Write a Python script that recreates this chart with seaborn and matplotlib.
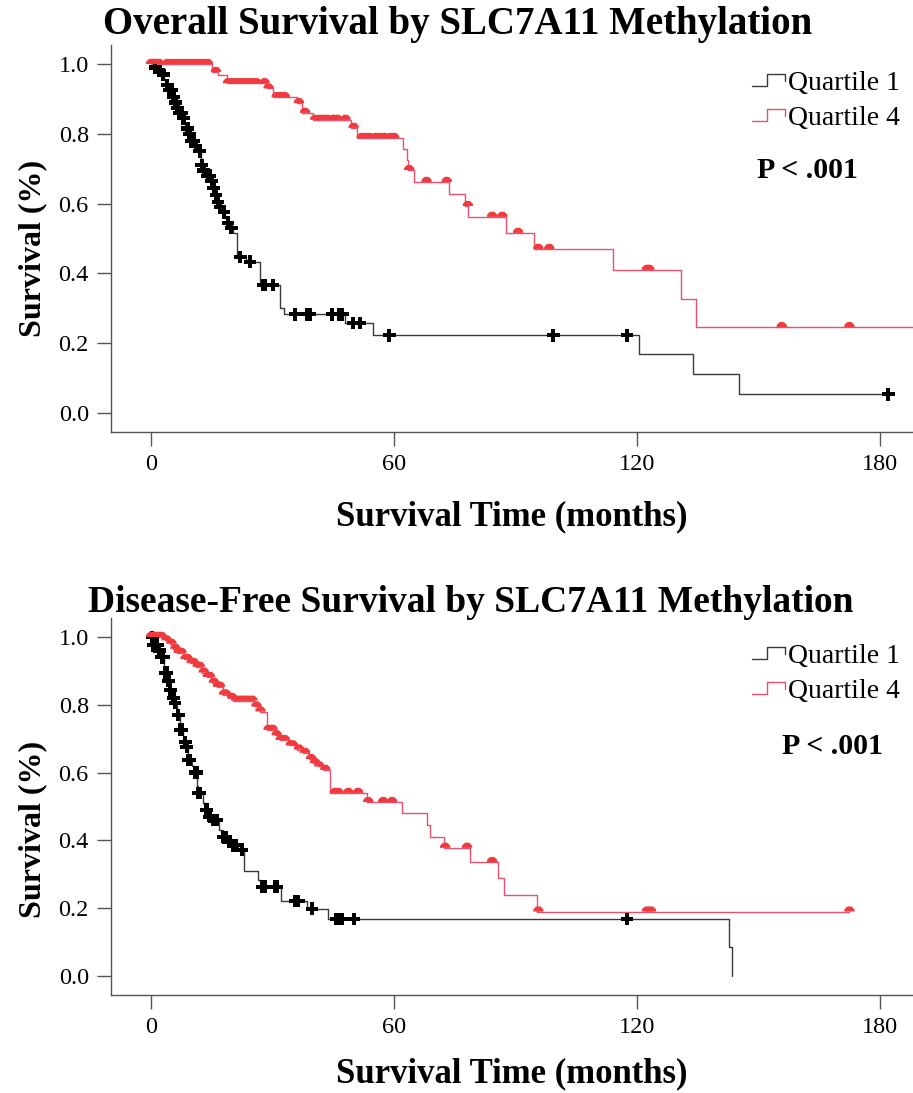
import numpy as np
import pandas as pd
import matplotlib
matplotlib.use('Agg')
import matplotlib.pyplot as plt
import seaborn as sns
from matplotlib.lines import Line2D
from matplotlib.path import Path
from matplotlib.legend_handler import HandlerBase

# ---- Overall survival: step curves (time in months, survival) ----
os_q1_time = [0, 0.8, 1.5, 2.5, 3.2, 3.8, 4.5, 5.2, 5.8, 6.4, 7.0, 7.6, 8.2, 8.8, 9.4, 10.0,
              10.8, 11.6, 12.2, 13.0, 13.8, 14.6, 15.2, 15.8, 16.4, 17.0, 17.6, 18.2, 18.8,
              19.4, 20.2, 21.2, 23.5, 26.9, 31.9, 32.7, 47.9, 54.9, 120.5, 133.8, 145.2, 182]
os_q1_surv = [1.0, 0.99, 0.98, 0.97, 0.955, 0.94, 0.925, 0.905, 0.89, 0.875, 0.86, 0.845, 0.83,
              0.815, 0.80, 0.78, 0.765, 0.75, 0.71, 0.695, 0.68, 0.665, 0.645, 0.625, 0.605, 0.59,
              0.575, 0.56, 0.545, 0.53, 0.515, 0.447, 0.433, 0.367, 0.30, 0.283, 0.258, 0.223,
              0.169, 0.112, 0.054, 0.054]
os_q1_cens = [1, 2, 3, 4, 4.5, 5, 5.5, 6, 6.5, 7, 7.5, 8, 9, 9.5, 10, 10.5, 11, 12, 12.5, 13, 14,
              14.5, 15, 15.5, 16, 16.5, 17, 18, 19, 19.8, 22, 24.4, 27.6, 28.2, 30.1, 35.5, 38.4,
              39.2, 44.7, 46.4, 47.2, 49.9, 51.5, 58.8, 99.3, 117.5, 182]

os_q4_time = [0, 15.0, 16.5, 18.7, 28.6, 30.0, 36.0, 37.2, 40.0, 49.4, 50.8, 62.2, 63.2, 63.5,
              64.8, 73.6, 77.5, 78.3, 87.7, 94.6, 114.0, 130.9, 134.5, 190]
os_q4_surv = [1.0, 0.977, 0.968, 0.945, 0.93, 0.905, 0.888, 0.86, 0.84, 0.817, 0.788, 0.756,
              0.725, 0.696, 0.662, 0.627, 0.593, 0.562, 0.516, 0.47, 0.41, 0.327, 0.246, 0.246]
os_q4_cens = [0, 0.3, 0.6, 1, 1.5, 2, 4, 5, 6, 7, 8, 9, 10, 11, 12, 13, 14, 16, 19, 20, 21, 22,
              23, 24, 25, 26, 28, 29, 31, 32, 33, 36.5, 38, 40.5, 41.5, 42.5, 43.5, 45, 46, 48,
              50, 52, 53, 54, 55.5, 56.5, 57.5, 59, 60, 63.7, 68, 73, 78.2, 84.2, 86.7, 90.6,
              95.6, 98.3, 122.4, 123, 155.7, 172.4]

# ---- Disease-free survival ----
dfs_q1_time = [0, 0.6, 1.8, 2.6, 3.2, 3.5, 4.0, 4.7, 5.3, 5.9, 6.4, 7.2, 7.8, 8.4, 8.8, 9.1,
               10.2, 10.9, 11.4, 11.6, 12.8, 13.7, 14.5, 15.3, 16.8, 17.8, 19.0, 20.3, 21.5,
               23.0, 26.5, 27.2, 32.1, 38.4, 43.7, 142.7, 143.3]
dfs_q1_surv = [1.0, 0.976, 0.96, 0.94, 0.91, 0.894, 0.87, 0.844, 0.82, 0.805, 0.77, 0.726, 0.70,
               0.69, 0.676, 0.637, 0.62, 0.60, 0.56, 0.54, 0.51, 0.49, 0.47, 0.46, 0.43, 0.41,
               0.395, 0.386, 0.372, 0.31, 0.283, 0.263, 0.221, 0.198, 0.168, 0.085, 0.0]
dfs_q1_cens = [0.3, 0.6, 1, 1.5, 2, 2.6, 3, 3.5, 3.9, 4.3, 4.7, 5.5, 5.9, 6.7, 7.2, 7.6, 8.4,
               8.8, 9.1, 9.6, 10.9, 11.2, 11.6, 12, 13.7, 14.5, 15.3, 16.2, 17.8, 18.5, 19.2,
               20.3, 21, 22.4, 27.5, 28, 30.6, 31, 35.5, 36.3, 39.7, 45.8, 46.5, 47, 50.1, 117.5]

dfs_q4_time = [0, 3.5, 4.7, 5.5, 6.4, 8.0, 9.6, 11.2, 12.5, 13.7, 15.0, 16.2, 17.8, 19.0, 20.3,
               25.5, 26.9, 28.6, 30.5, 31.9, 34.3, 36.0, 37.6, 39.0, 40.0, 41.2, 42.5, 44.2,
               53.3, 62.0, 68.0, 68.9, 72.2, 78.8, 85.7, 87.2, 95.3, 172.4]
dfs_q4_surv = [1.0, 0.99, 0.98, 0.965, 0.953, 0.935, 0.923, 0.912, 0.895, 0.882, 0.865, 0.853,
               0.83, 0.82, 0.812, 0.795, 0.78, 0.726, 0.71, 0.696, 0.68, 0.668, 0.658, 0.64,
               0.628, 0.618, 0.608, 0.54, 0.513, 0.48, 0.445, 0.41, 0.378, 0.336, 0.29, 0.24,
               0.19, 0.19]
dfs_q4_cens = [0, 0.4, 0.8, 1.2, 1.6, 2, 2.6, 3.8, 5, 6, 6.8, 7.5, 8.5, 9, 10, 10.5, 11.5, 12,
               13, 14, 14.5, 15.5, 16.5, 17, 18, 18.5, 20, 21, 22, 23, 24, 25, 26, 27, 29, 30,
               31, 32, 33, 34.5, 35, 36.5, 38, 39.5, 40.5, 41.5, 43, 45.4, 46.2, 48.7, 51.1,
               53.6, 57.3, 59.5, 72.6, 78, 84.2, 95.6, 122.4, 123.4, 172.4]

titles = ['Overall Survival by SLC7A11 Methylation',
          'Disease-Free Survival by SLC7A11 Methylation']
groups = ['Quartile 1', 'Quartile 4']
p_text = 'P < .001'

line_colors = {'Quartile 1': '#3a3a3a', 'Quartile 4': '#e8506e'}
mark_colors = {'Quartile 1': '#000000', 'Quartile 4': '#f03a3e'}

sns.set_style('ticks')
plt.rcParams['font.family'] = ['Liberation Serif', 'DejaVu Serif']
plt.rcParams['text.color'] = 'black'
plt.rcParams['axes.labelcolor'] = 'black'
plt.rcParams['xtick.labelcolor'] = 'black'
plt.rcParams['ytick.labelcolor'] = 'black'

# half-disc marker for the red censor ticks
half = Path.arc(0, 180)
half_disc = Path(np.vstack([half.vertices, [[1, 0]]]), None)


def surv_at(times, survs, t):
    idx = np.searchsorted(times, t, side='right') - 1
    return np.asarray(survs)[idx]


class StepHandler(HandlerBase):
    def create_artists(self, legend, orig_handle, xdescent, ydescent, width, height,
                       fontsize, trans):
        x0, y0 = -xdescent, -ydescent
        xs = [x0, x0 + 0.45 * width, x0 + 0.45 * width, x0 + width, x0 + width]
        ys = [y0 + 0.2 * height, y0 + 0.2 * height, y0 + 0.8 * height,
              y0 + 0.8 * height, y0 + 0.45 * height]
        return [Line2D(xs, ys, color=orig_handle.get_color(), lw=1.0, transform=trans)]


fig = plt.figure(figsize=(9.13, 10.93), dpi=100)
ax_top = fig.add_axes([0.1216, 0.6048, 0.8784, 0.354])
ax_bot = fig.add_axes([0.1216, 0.0897, 0.8784, 0.3449])

panels = [
    (ax_top, [(os_q1_time, os_q1_surv, os_q1_cens), (os_q4_time, os_q4_surv, os_q4_cens)]),
    (ax_bot, [(dfs_q1_time, dfs_q1_surv, dfs_q1_cens), (dfs_q4_time, dfs_q4_surv, dfs_q4_cens)]),
]

for ax, curves in panels:
    for grp, (t, s, c) in zip(groups, curves):
        df = pd.DataFrame({'time': t, 'surv': s})
        sns.lineplot(data=df, x='time', y='surv', ax=ax, drawstyle='steps-post',
                     color=line_colors[grp], lw=1.0, estimator=None, sort=False)
        cdf = pd.DataFrame({'time': c, 'surv': surv_at(t, s, c)})
        if grp == 'Quartile 1':
            sns.scatterplot(data=cdf, x='time', y='surv', ax=ax, marker='P', s=85,
                            color=mark_colors[grp], edgecolor='none', zorder=3)
        else:
            sns.scatterplot(data=cdf, x='time', y='surv', ax=ax, marker=half_disc, s=55,
                            color=mark_colors[grp], edgecolor='none', zorder=3)

    ax.set_xlim(-9.9, 188.1)
    ax.set_xticks([0, 60, 120, 180])
    ax.set_yticks([0.0, 0.2, 0.4, 0.6, 0.8, 1.0])
    ax.set_yticklabels(['0.0', '0.2', '0.4', '0.6', '0.8', '1.0'])
    ax.tick_params(axis='both', length=10, width=1.0, color='#555555', labelsize=17.5, pad=6)
    for sp in ['top', 'right']:
        ax.spines[sp].set_visible(False)
    for sp in ['left', 'bottom']:
        ax.spines[sp].set_color('#555555')
        ax.spines[sp].set_linewidth(1.0)
    ax.set_ylabel('Survival (%)', fontsize=23, fontweight='bold')

    handles = [Line2D([], [], color=line_colors[g]) for g in groups]
    ax.legend(handles, groups, handler_map={Line2D: StepHandler()}, frameon=False,
              loc='upper right', bbox_to_anchor=(1.008, 0.985), fontsize=20, handlelength=1.2,
              handletextpad=0.1, labelspacing=0.35, borderaxespad=0.3)

ax_top.set_xlabel('Survival Time (months)', fontsize=25, fontweight='bold', labelpad=18)
ax_bot.set_xlabel('Survival Time (months)', fontsize=25, fontweight='bold', labelpad=14)

ax_top.set_ylim(-0.0544, 1.0544)
ax_bot.set_ylim(-0.056, 1.056)
ax_top.yaxis.set_label_coords(-0.08, 0.475)
ax_bot.yaxis.set_label_coords(-0.08, 0.438)

ax_top.text(0.868, 0.677, p_text, transform=ax_top.transAxes, fontsize=21.5, fontweight='bold',
            ha='center', va='center')
ax_bot.text(0.900, 0.66, p_text, transform=ax_bot.transAxes, fontsize=21.5, fontweight='bold',
            ha='center', va='center')

fig.text(0.501, 0.978, titles[0], fontsize=28, fontweight='bold', ha='center', va='center')
fig.text(0.516, 0.449, titles[1], fontsize=27, fontweight='bold', ha='center', va='center')

fig.savefig('out.png', dpi=100)
